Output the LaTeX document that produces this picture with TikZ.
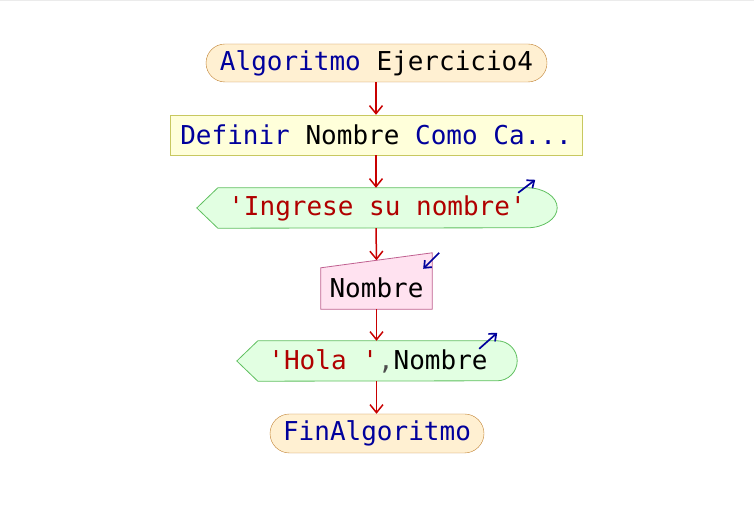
\documentclass[tikz,border=0pt]{standalone}
\usepackage{fontspec}
\setmonofont{DejaVu Sans Mono}
\usetikzlibrary{shapes.misc,arrows.meta,calc}

\definecolor{kw}{HTML}{00009C}
\definecolor{str}{HTML}{B00000}
\definecolor{flecha}{HTML}{C80000}
\definecolor{termfill}{HTML}{FFF0D2}
\definecolor{termdraw}{HTML}{C08030}
\definecolor{deffill}{HTML}{FFFFDA}
\definecolor{defdraw}{HTML}{C8C860}
\definecolor{salfill}{HTML}{E2FFE2}
\definecolor{saldraw}{HTML}{60C060}
\definecolor{entfill}{HTML}{FFE2F0}
\definecolor{entdraw}{HTML}{C06090}

\tikzset{
  texto/.style={font=\ttfamily\fontsize{26}{30}\selectfont,inner sep=0pt},
  term/.style={texto,rounded rectangle,draw=termdraw,fill=termfill,minimum height=38pt},
  defbox/.style={texto,rectangle,draw=defdraw,fill=deffill,minimum height=40pt},
  hueco/.style={texto,rectangle,minimum height=40pt},
  salida/.style={draw=saldraw,fill=salfill,line width=0.8pt},
  entrada/.style={draw=entdraw,fill=entfill,line width=0.8pt},
  flujo/.style={draw=flecha,line width=1.5pt,-{Straight Barb[length=8pt,width=13pt]}},
  icono/.style={draw=kw,line width=1.7pt,-{Straight Barb[length=6pt,width=10pt]}}
}

\begin{document}
\begin{tikzpicture}[x=1pt,y=1pt]
  \useasboundingbox (0,0) rectangle (754,526);
  \draw[black!8,line width=1.5pt] (0,525.5) -- (754,525.5);

  % bloques
  \node[term,minimum width=341pt] (inicio) at (376.5,463)
    {{\color{kw}Algoritmo} Ejercicio4};
  \node[defbox,minimum width=412pt] (definir) at (376,391)
    {{\color{kw}Definir} Nombre {\color{kw}Como Ca...}};

  \node[hueco,minimum width=360pt] (sal1) at (377,318) {};
  \draw[salida] (sal1.west) -- ($(sal1.north west)+(21,0)$)
    -- ($(sal1.north east)+(-30,0)$) arc[start angle=90,end angle=-90,x radius=30,y radius=20]
    -- ($(sal1.south west)+(21,0)$) -- cycle;
  \node[texto] at (sal1) {\color{str}'Ingrese su nombre'};
  \draw[icono] ($(sal1.north east)+(-39,-5)$) -- ($(sal1.north east)+(-22,8)$);

  \node[hueco,minimum width=111pt,minimum height=41pt] (entrada) at (376.5,237.5) {};
  \draw[entrada] (entrada.south west) -- (entrada.north west)
    -- ($(entrada.north east)+(0,15)$) -- (entrada.south east) -- cycle;
  \node[texto] at ($(entrada)+(0,1)$) {Nombre};
  \draw[icono] ($(entrada.north east)+(7,15)$) -- ($(entrada.north east)+(-9,-1)$);
  \coordinate (entrada-arriba) at ($(entrada.north)+(0,7.5)$);

  \node[hueco,minimum width=280pt] (sal2) at (377,165) {};
  \draw[salida] (sal2.west) -- ($(sal2.north west)+(21,0)$)
    -- ($(sal2.north east)+(-20,0)$) arc[start angle=90,end angle=-90,x radius=20,y radius=20]
    -- ($(sal2.south west)+(21,0)$) -- cycle;
  \node[texto] at ($(sal2)+(1,0)$) {{\color{str}'Hola '}{\color{black!70},}Nombre};
  \draw[icono] ($(sal2.north east)+(-38,-8)$) -- ($(sal2.north east)+(-20,8)$);

  \node[term,minimum width=214pt,minimum height=39pt] (fin) at (377,92.5)
    {\color{kw}FinAlgoritmo};

  % flechas
  \draw[flujo] (inicio.south -| definir.north) -- (definir.north);
  \draw[flujo] (definir.south) -- (definir.south |- sal1.north);
  \draw[flujo] (definir.south |- sal1.south) -- (entrada-arriba);
  \draw[flujo] (entrada.south) -- (entrada.south |- sal2.north);
  \draw[flujo] (entrada.south |- sal2.south) -- (entrada.south |- fin.north);
\end{tikzpicture}
\end{document}
